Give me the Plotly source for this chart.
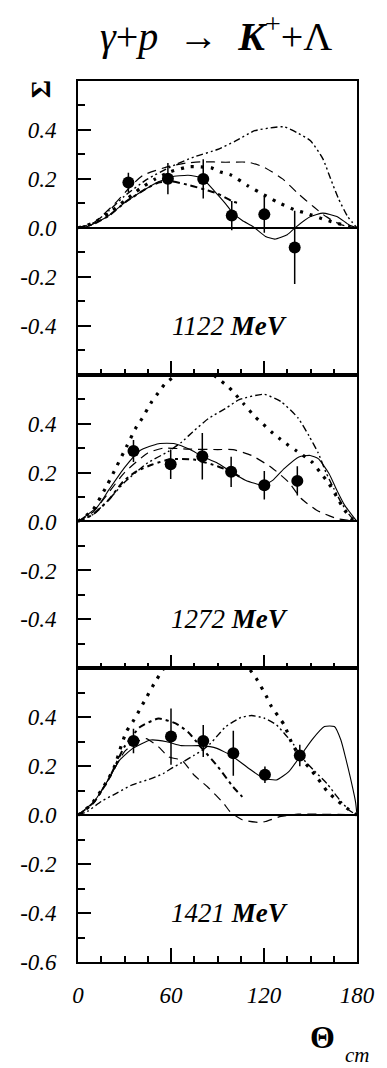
import plotly.graph_objects as go
from plotly.subplots import make_subplots

# ---------------- data ----------------
ENERGIES = ["1122 MeV", "1272 MeV", "1421 MeV"]

# measured points (angle in deg, Sigma, error)
P1_X = [32.5, 58.0, 80.8, 99.2, 120.2, 139.8]
P1_Y = [0.185, 0.201, 0.200, 0.050, 0.055, -0.080]
P1_E = [0.040, 0.064, 0.080, 0.060, 0.075, 0.150]

P2_X = [35.8, 59.8, 80.2, 98.8, 120.2, 141.5]
P2_Y = [0.288, 0.234, 0.267, 0.203, 0.148, 0.166]
P2_E = [0.045, 0.060, 0.095, 0.062, 0.058, 0.060]

P3_X = [35.8, 60.0, 80.8, 100.2, 120.6, 143.1]
P3_Y = [0.303, 0.321, 0.303, 0.253, 0.165, 0.244]
P3_E = [0.050, 0.115, 0.065, 0.092, 0.034, 0.044]

# model curves, panel 1 (1122 MeV)
P1_A_X = [0, 10, 20, 30, 45, 60, 75, 90, 102, 114, 126, 133, 141, 150, 158, 163, 168, 174, 180]
P1_A_Y = [0, 0.02, 0.07, 0.13, 0.2, 0.25, 0.29, 0.32, 0.356, 0.397, 0.41, 0.413, 0.39, 0.356, 0.282, 0.2, 0.12, 0.046, 0]
P1_B_X = [0, 10, 25, 34, 42, 58, 70, 80, 95, 110, 120, 132, 142, 152, 160, 170, 180]
P1_B_Y = [0, 0.02, 0.107, 0.17, 0.215, 0.25, 0.265, 0.27, 0.268, 0.268, 0.248, 0.2, 0.14, 0.086, 0.046, 0.012, 0]
P1_C_X = [0, 10, 20, 30, 40, 50, 60, 72, 86, 92, 99, 110, 120, 128, 140, 147, 160, 167, 175, 180]
P1_C_Y = [0, 0.02, 0.06, 0.11, 0.16, 0.2, 0.23, 0.25, 0.245, 0.228, 0.215, 0.17, 0.135, 0.107, 0.073, 0.06, 0.032, 0.019, 0.005, 0]
P1_D_X = [0, 10, 20, 31, 44, 52, 60, 72, 83, 90, 100, 104]
P1_D_Y = [0, 0.015, 0.05, 0.107, 0.16, 0.185, 0.19, 0.174, 0.154, 0.14, 0.107, 0.1]
P1_E_X = [0, 6, 19, 31, 44, 52, 60, 71, 80, 88, 95, 100, 106, 113, 121, 127, 135, 140, 150, 158, 167, 175, 180]
P1_E_Y = [0, 0.005, 0.046, 0.107, 0.16, 0.188, 0.208, 0.215, 0.204, 0.15, 0.1, 0.06, 0.03, 0.005, -0.035, -0.046, -0.028, 0, 0.046, 0.06, 0.046, 0.012, 0]

# model curves, panel 2 (1272 MeV)
P2_A_X = [0, 10, 20, 30, 45, 58, 67, 74, 84, 96, 104, 120, 131, 142, 149, 155, 160, 165, 170, 176, 180]
P2_A_Y = [0, 0.03, 0.09, 0.16, 0.24, 0.285, 0.325, 0.366, 0.42, 0.465, 0.498, 0.52, 0.49, 0.423, 0.35, 0.28, 0.2, 0.135, 0.075, 0.02, 0]
P2_B_X = [0, 10, 20, 30, 45, 55, 70, 90, 100, 112, 125, 136, 144, 154, 167, 180]
P2_B_Y = [0, 0.04, 0.12, 0.2, 0.28, 0.3, 0.296, 0.294, 0.294, 0.27, 0.22, 0.16, 0.094, 0.046, 0.012, 0]
P2_C_X = [0, 9.4, 18.75, 25, 31.25, 37.1, 41.25, 47.5, 51.7, 55.8, 61.5, 68, 76, 84, 90.8, 96.7, 100.8, 107, 114.4, 119.6, 124.8, 130, 135.8, 140.4, 150.8, 156, 161.9, 167, 172, 177.5, 180]
P2_C_Y = [0, 0.046, 0.148, 0.226, 0.305, 0.38, 0.42, 0.489, 0.525, 0.56, 0.59, 0.615, 0.63, 0.615, 0.582, 0.552, 0.525, 0.48, 0.427, 0.397, 0.366, 0.339, 0.311, 0.291, 0.244, 0.203, 0.155, 0.1, 0.046, 0.005, 0]
P2_D_X = [0, 10, 20, 29.4, 37.7, 48, 60, 75, 90, 100, 105]
P2_D_Y = [0, 0.03, 0.09, 0.165, 0.205, 0.233, 0.255, 0.253, 0.226, 0.2, 0.18]
P2_E_X = [0, 12.5, 20, 30, 40, 52, 62.5, 72, 80, 89.6, 98.75, 108, 119.6, 125.8, 133, 142.5, 149.8, 155, 161.9, 167, 172, 177.5, 180]
P2_E_Y = [0, 0.06, 0.13, 0.22, 0.29, 0.318, 0.318, 0.295, 0.267, 0.24, 0.203, 0.169, 0.148, 0.169, 0.216, 0.264, 0.27, 0.257, 0.196, 0.128, 0.067, 0.02, 0]

# model curves, panel 3 (1421 MeV)
P3_A_X = [0, 6, 15, 25, 35, 48, 55, 60, 67, 75, 80, 85, 90, 95, 100, 105, 112, 120, 128, 133, 139, 144, 152, 160.6, 169, 175, 180]
P3_A_Y = [0, 0.015, 0.056, 0.09, 0.124, 0.151, 0.17, 0.19, 0.215, 0.245, 0.265, 0.29, 0.325, 0.36, 0.381, 0.399, 0.407, 0.397, 0.369, 0.335, 0.29, 0.238, 0.184, 0.129, 0.061, 0.02, 0]
P3_B_X = [0, 10, 20, 30, 38, 44, 52, 58.5, 67, 75, 83.5, 94, 98, 106, 117, 121, 131, 142, 154, 175, 180]
P3_B_Y = [0, 0.05, 0.15, 0.26, 0.3, 0.313, 0.279, 0.238, 0.224, 0.163, 0.116, 0.048, 0.015, -0.019, -0.03, -0.026, -0.005, 0.004, 0.004, 0.002, 0]
P3_C_X = [0, 8.3, 14.6, 19.8, 24, 27, 31.25, 35.4, 38.5, 42.7, 48.9, 54.6, 60, 70, 83, 95, 105, 111, 115, 121.7, 124.8, 133, 138, 143, 149.4, 154.6, 160.8, 168, 174.8, 180]
P3_C_Y = [0, 0.042, 0.097, 0.151, 0.205, 0.267, 0.342, 0.382, 0.416, 0.464, 0.535, 0.593, 0.64, 0.69, 0.72, 0.69, 0.63, 0.593, 0.559, 0.484, 0.444, 0.369, 0.294, 0.24, 0.192, 0.151, 0.097, 0.056, 0.022, 0]
P3_D_X = [0, 10, 20, 30, 40, 52, 63, 71, 79, 90, 100, 106]
P3_D_Y = [0, 0.05, 0.15, 0.28, 0.36, 0.395, 0.375, 0.34, 0.28, 0.2, 0.116, 0.075]
P3_E_X = [0, 10.4, 18.75, 27, 35.4, 46.9, 57.3, 66.7, 79, 89.6, 99.8, 110, 119.6, 128, 136, 142.5, 150.8, 159, 165.4, 169.6, 172.7, 175.8, 179, 180]
P3_E_Y = [0, 0.056, 0.137, 0.226, 0.273, 0.307, 0.3, 0.284, 0.284, 0.273, 0.24, 0.192, 0.151, 0.144, 0.178, 0.233, 0.307, 0.362, 0.362, 0.307, 0.233, 0.151, 0.056, 0]

X_TICK_VALS = [0, 60, 120, 180]
X_TICK_LABELS = ["0", "60", "120", "180"]
Y_TICK_VALS = [-0.4, -0.2, 0.0, 0.2, 0.4]
Y_TICK_VALS_BOTTOM = [-0.6, -0.4, -0.2, 0.0, 0.2, 0.4]

# ---------------- figure ----------------
SERIF = "Liberation Serif, Times New Roman, serif"
STYLES = {
    "A": dict(width=1.4, dash="7px,3px,2px,3px,2px,3px"),
    "B": dict(width=1.2, dash="9px,6px"),
    "C": dict(width=3.2, dash="3px,7px"),
    "D": dict(width=2.0, dash="7px,4px,3px,4px"),
    "E": dict(width=1.1, dash="solid"),
}

panels = [
    dict(pts=(P1_X, P1_Y, P1_E), curves={"A": (P1_A_X, P1_A_Y), "B": (P1_B_X, P1_B_Y), "C": (P1_C_X, P1_C_Y), "D": (P1_D_X, P1_D_Y), "E": (P1_E_X, P1_E_Y)}),
    dict(pts=(P2_X, P2_Y, P2_E), curves={"A": (P2_A_X, P2_A_Y), "B": (P2_B_X, P2_B_Y), "C": (P2_C_X, P2_C_Y), "D": (P2_D_X, P2_D_Y), "E": (P2_E_X, P2_E_Y)}),
    dict(pts=(P3_X, P3_Y, P3_E), curves={"A": (P3_A_X, P3_A_Y), "B": (P3_B_X, P3_B_Y), "C": (P3_C_X, P3_C_Y), "D": (P3_D_X, P3_D_Y), "E": (P3_E_X, P3_E_Y)}),
]

fig = make_subplots(rows=3, cols=1, shared_xaxes=True, vertical_spacing=0)

def fmt(v):
    s = "%.1f" % v
    return "-" + s[1:] if s.startswith("-") else s

for i, p in enumerate(panels):
    row = i + 1
    for key, (cx, cy) in p["curves"].items():
        st = STYLES[key]
        fig.add_trace(go.Scatter(x=cx, y=cy, mode="lines",
                                 line=dict(color="black", width=st["width"], dash=st["dash"],
                                           shape="spline", smoothing=0.5),
                                 showlegend=False, hoverinfo="skip"), row=row, col=1)
    px, py, pe = p["pts"]
    fig.add_trace(go.Scatter(x=px, y=py, mode="markers",
                             marker=dict(color="black", size=12, symbol="circle"),
                             error_y=dict(type="data", array=pe, visible=True, thickness=1.5,
                                          width=0, color="black"),
                             showlegend=False), row=row, col=1)

    yvals = Y_TICK_VALS_BOTTOM if row == 3 else Y_TICK_VALS
    fig.update_yaxes(row=row, col=1, range=[-0.6, 0.6],
                     showline=True, linecolor="black", linewidth=1.6, mirror=True,
                     showgrid=False, zeroline=True, zerolinecolor="black", zerolinewidth=1.5,
                     tickmode="array", tickvals=yvals,
                     ticktext=[fmt(v) for v in yvals],
                     ticks="inside", ticklen=13, tickwidth=1.5, tickcolor="black",
                     ticklabelstandoff=15,
                     minor=dict(ticks="inside", ticklen=7, tickwidth=1.5, tickcolor="black",
                                dtick=0.1, tick0=0),
                     tickfont=dict(family=SERIF, size=23, color="black", style="italic"))
    fig.update_xaxes(row=row, col=1, range=[0, 180],
                     showline=True, linecolor="black", linewidth=1.6, mirror=True,
                     showgrid=False, zeroline=False,
                     tickmode="array", tickvals=X_TICK_VALS,
                     ticktext=X_TICK_LABELS,
                     showticklabels=(row == 3),
                     ticks="inside", ticklen=14, tickwidth=1.5, tickcolor="black",
                     ticklabelstandoff=12,
                     minor=dict(ticks="inside", ticklen=6, tickwidth=1.5, tickcolor="black",
                                dtick=15, tick0=0),
                     tickfont=dict(family=SERIF, size=23, color="black", style="italic"))

    num, unit = ENERGIES[i].split(" ")
    fig.add_annotation(x=98, y=-0.4, xref="x%s" % ("" if row == 1 else row),
                       yref="y%s" % ("" if row == 1 else row),
                       xanchor="center", yanchor="middle",
                       text="<i>%s <b>%s</b></i>" % (num, unit),
                       showarrow=False, font=dict(family=SERIF, size=27, color="black"))

# the page body has an 8px margin, so the figure is placed 8px right/down;
# margins below are chosen so the plot frame lands at x 73..361, y 81..962
PLOT_H = 881.0
PLOT_W = 288.0
fig.add_annotation(x=0.493, y=1.0 + 48 / PLOT_H, xref="paper", yref="paper",
                   xanchor="center", yanchor="middle",
                   text="<i>γ</i>+<i>p</i>\u2002→\u2002<i><b>K</b></i><sup>+</sup>+Λ",
                   showarrow=False, font=dict(family=SERIF, size=40, color="black"))
fig.add_annotation(x=-39 / PLOT_W, y=1.0 - 8 / PLOT_H, xref="paper", yref="paper",
                   xanchor="center", yanchor="middle", text="<b>Σ</b>",
                   textangle=-90, showarrow=False, font=dict(family=SERIF, size=28, color="black"))
fig.add_annotation(x=252 / PLOT_W, y=-75 / PLOT_H, xref="paper", yref="paper",
                   xanchor="center", yanchor="middle", text="<b>Θ</b>",
                   showarrow=False, font=dict(family=SERIF, size=32, color="black"))
fig.add_annotation(x=288 / PLOT_W, y=-93 / PLOT_H, xref="paper", yref="paper",
                   xanchor="center", yanchor="middle", text="<i>cm</i>",
                   showarrow=False, font=dict(family=SERIF, size=21, color="black"))

fig.update_layout(width=379, height=1060,
                  margin=dict(l=65, r=26, t=73, b=106),
                  paper_bgcolor="white", plot_bgcolor="white",
                  showlegend=False)

fig.write_html("out.html")
